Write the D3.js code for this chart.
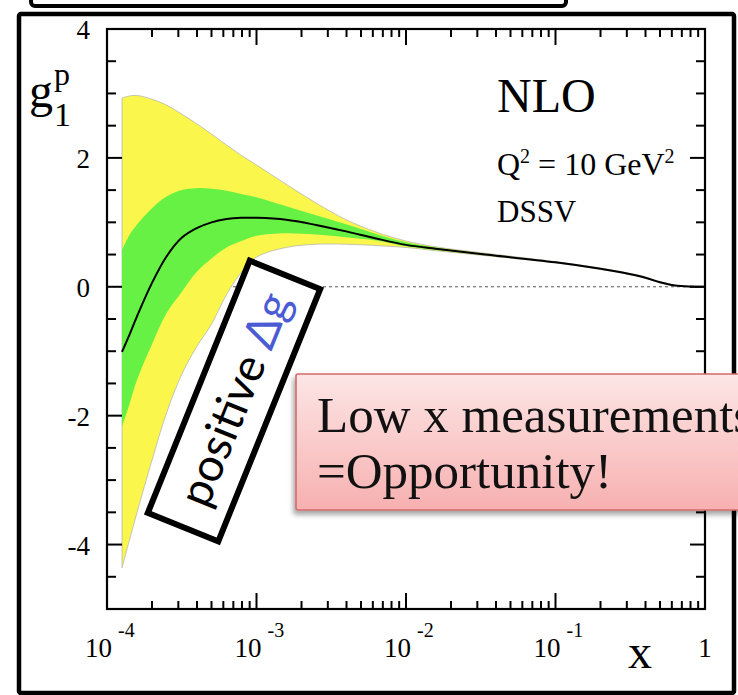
<!DOCTYPE html>
<html>
<head>
<meta charset="utf-8">
<script src="https://cdn.jsdelivr.net/npm/d3@7"></script>
<style>
  html, body { margin: 0; padding: 0; background: #fff; }
  svg { display: block; }
</style>
</head>
<body>
<svg id="chart" width="738" height="695"></svg>
<script>
// x sample points (Bjorken x) of the DSSV g1^p curve and its uncertainty bands
const xs = [1.26e-4, 1.41e-4, 1.58e-4, 2.0e-4, 2.5e-4, 3.16e-4, 3.98e-4, 5.0e-4, 6.3e-4, 7.9e-4,
            1.0e-3, 1.58e-3, 2.5e-3, 3.98e-3, 6.3e-3, 1.0e-2, 1.58e-2, 3.16e-2, 0.1, 0.2,
            0.28, 0.4, 0.5, 0.63, 0.8, 1.0];
// central NLO fit
const central = [-1.01, -0.75, -0.47, 0.06, 0.47, 0.76, 0.91, 1.00, 1.05, 1.07,
                 1.07, 1.04, 0.96, 0.86, 0.75, 0.65, 0.59, 0.51, 0.38, 0.28,
                 0.22, 0.14, 0.07, 0.02, 0.003, 0.0];
// inner (green) band
const innerHi = [0.57, 0.80, 0.96, 1.22, 1.40, 1.50, 1.53, 1.52, 1.49, 1.44,
                 1.39, 1.25, 1.11, 0.97, 0.82, 0.69, 0.61, 0.52, 0.385, 0.285,
                 0.225, 0.145, 0.075, 0.022, 0.004, 0.0];
const innerLo = [-2.17, -1.83, -1.46, -0.89, -0.41, -0.08, 0.23, 0.44, 0.61, 0.71,
                 0.79, 0.83, 0.81, 0.77, 0.72, 0.63, 0.57, 0.50, 0.375, 0.275,
                 0.215, 0.135, 0.065, 0.018, 0.002, 0.0];
// outer (yellow) band
const outerHi = [2.93, 2.96, 2.97, 2.91, 2.82, 2.68, 2.53, 2.37, 2.20, 2.04,
                 1.89, 1.59, 1.30, 1.04, 0.85, 0.71, 0.62, 0.53, 0.39, 0.29,
                 0.23, 0.15, 0.08, 0.025, 0.005, 0.0];
const outerLo = [-4.36, -3.94, -3.52, -2.69, -1.96, -1.36, -0.93, -0.58, -0.12, 0.22,
                 0.46, 0.61, 0.66, 0.66, 0.64, 0.61, 0.56, 0.49, 0.37, 0.27,
                 0.21, 0.13, 0.06, 0.015, 0.001, 0.0];

// axis ticks
const xMajorTicks = [1e-4, 1e-3, 1e-2, 1e-1, 1];
const xTickExp = ["-4", "-3", "-2", "-1", null];
const yMajorTicks = [-4, -2, 0, 2, 4];
const yTickLabels = ["-4", "-2", "0", "2", "4"];

const svg = d3.select("#chart");
const serif = "'Liberation Serif', 'Times New Roman', serif";

const x = d3.scaleLog().domain([1e-4, 1]).range([107, 705]);
const y = d3.scaleLinear().domain([-5, 4]).range([609, 29]);

const rows = xs.map((v, i) => ({
  x: v, c: central[i], gl: innerLo[i], gh: innerHi[i], yl: outerLo[i], yh: outerHi[i]
}));

const defs = svg.append("defs");
const grad = defs.append("linearGradient").attr("id", "pinkGrad")
  .attr("x1", 0).attr("y1", 0).attr("x2", 0).attr("y2", 1);
grad.append("stop").attr("offset", "0%").attr("stop-color", "#fde6e6");
grad.append("stop").attr("offset", "100%").attr("stop-color", "#f7b0b0");
const shadow = defs.append("filter").attr("id", "boxShadow")
  .attr("x", "-20%").attr("y", "-20%").attr("width", "140%").attr("height", "150%");
shadow.append("feDropShadow").attr("dx", -2).attr("dy", 4).attr("stdDeviation", 2.5)
  .attr("flood-color", "#000").attr("flood-opacity", 0.35);

// outer slide frame and the box peeking in at the top
svg.append("rect").attr("x", 31).attr("y", -30).attr("width", 535).attr("height", 36)
  .attr("rx", 4).attr("fill", "#fff").attr("stroke", "#000").attr("stroke-width", 4);
svg.append("rect").attr("x", 19).attr("y", 14).attr("width", 715).attr("height", 679)
  .attr("rx", 2).attr("fill", "#fff").attr("stroke", "#000").attr("stroke-width", 4.5);

// zero reference line
svg.append("line")
  .attr("x1", x(1e-4)).attr("x2", x(1)).attr("y1", y(0)).attr("y2", y(0))
  .attr("stroke", "#555").attr("stroke-width", 1).attr("stroke-dasharray", "3,3");

const curve = d3.curveCatmullRom.alpha(0.5);
const outerArea = d3.area().x(d => x(d.x)).y0(d => y(d.yl)).y1(d => y(d.yh)).curve(curve);
const innerArea = d3.area().x(d => x(d.x)).y0(d => y(d.gl)).y1(d => y(d.gh)).curve(curve);
const centralLine = d3.line().x(d => x(d.x)).y(d => y(d.c)).curve(curve);

svg.append("path").datum(rows).attr("d", outerArea)
  .attr("fill", "#fbf64c").attr("stroke", "#b8b8b0").attr("stroke-width", 0.8);
svg.append("path").datum(rows).attr("d", innerArea)
  .attr("fill", "#66f144").attr("stroke", "none");
svg.append("path").datum(rows).attr("d", centralLine)
  .attr("fill", "none").attr("stroke", "#000").attr("stroke-width", 2);

// plot frame
svg.append("rect").attr("x", 107).attr("y", 29).attr("width", 598).attr("height", 580)
  .attr("fill", "none").attr("stroke", "#000").attr("stroke-width", 2.2);

// x ticks (bottom and top)
const xAll = x.ticks();
const isMajorX = t => xMajorTicks.some(m => Math.abs(Math.log10(m) - Math.log10(t)) < 1e-6);
const tickG = svg.append("g").attr("stroke", "#000").attr("stroke-width", 2);
tickG.selectAll("line.xb").data(xAll).join("line").attr("class", "xb")
  .attr("x1", d => x(d)).attr("x2", d => x(d))
  .attr("y1", 609).attr("y2", d => 609 - (isMajorX(d) ? 16 : 8));
tickG.selectAll("line.xt").data(xAll).join("line").attr("class", "xt")
  .attr("x1", d => x(d)).attr("x2", d => x(d))
  .attr("y1", 29).attr("y2", d => 29 + (isMajorX(d) ? 16 : 8));

// y ticks (left and right), every 0.5
const yAll = y.ticks(18);
const isMajorY = t => yMajorTicks.includes(t);
tickG.selectAll("line.yl").data(yAll).join("line").attr("class", "yl")
  .attr("y1", d => y(d)).attr("y2", d => y(d))
  .attr("x1", 107).attr("x2", d => 107 + (isMajorY(d) ? 15 : 9));
tickG.selectAll("line.yr").data(yAll).join("line").attr("class", "yr")
  .attr("y1", d => y(d)).attr("y2", d => y(d))
  .attr("x1", 705).attr("x2", d => 705 - (isMajorY(d) ? 15 : 9));

// y tick labels
svg.selectAll("text.ylab").data(yMajorTicks).join("text").attr("class", "ylab")
  .attr("x", 90).attr("y", d => y(d) + 10)
  .attr("text-anchor", "end").attr("font-family", serif).attr("font-size", 27)
  .text((d, i) => yTickLabels[i]);

// x tick labels
xMajorTicks.forEach((t, i) => {
  if (xTickExp[i] === null) {
    svg.append("text").attr("x", x(t)).attr("y", 657).attr("text-anchor", "middle")
      .attr("font-family", serif).attr("font-size", 27).text("1");
  } else {
    const lab = svg.append("text").attr("x", x(t) - 22).attr("y", 657)
      .attr("font-family", serif).attr("font-size", 27);
    lab.append("tspan").text("10");
    lab.append("tspan").attr("x", x(t) + 11).attr("y", 637).attr("font-size", 20).text(xTickExp[i]);
  }
});

// axis titles
svg.append("text").attr("x", 628).attr("y", 668).attr("font-family", serif)
  .attr("font-size", 48).text("x");
const gl = svg.append("text").attr("font-family", serif);
gl.append("tspan").attr("x", 29).attr("y", 107).attr("font-size", 48).text("g");
gl.append("tspan").attr("x", 54).attr("y", 85).attr("font-size", 32).text("p");
gl.append("tspan").attr("x", 54).attr("y", 126).attr("font-size", 34).text("1");

// in-plot legend text
svg.append("text").attr("x", 497).attr("y", 112).attr("font-family", serif)
  .attr("font-size", 48).text("NLO");
const q = svg.append("text").attr("x", 497).attr("y", 175).attr("font-family", serif).attr("font-size", 32);
q.append("tspan").text("Q");
q.append("tspan").attr("dy", -12).attr("font-size", 20).text("2");
q.append("tspan").attr("dy", 12).text(" = 10 GeV");
q.append("tspan").attr("dy", -12).attr("font-size", 20).text("2");
svg.append("text").attr("x", 497).attr("y", 222).attr("font-family", serif)
  .attr("font-size", 31).text("DSSV");

// rotated "positive Δg" tag
const tag = svg.append("g").attr("transform", "translate(234,401) rotate(-68)");
tag.append("rect").attr("x", -136).attr("y", -38).attr("width", 272).attr("height", 76)
  .attr("fill", "#fff").attr("stroke", "#000").attr("stroke-width", 6);
const tagText = tag.append("text").attr("x", 2).attr("y", 16).attr("text-anchor", "middle")
  .attr("font-family", "Lato, 'Noto Sans', sans-serif").attr("font-size", 46)
  .attr("font-style", "normal").attr("font-weight", 400);
tagText.append("tspan").attr("fill", "#000").text("positive ");
tagText.append("tspan").attr("fill", "#4a5bd4").text("Δg");

// callout box
svg.append("rect").attr("x", 296).attr("y", 374).attr("width", 470).attr("height", 136)
  .attr("rx", 2).attr("fill", "url(#pinkGrad)").attr("stroke", "#d46a6a").attr("stroke-width", 1.6)
  .attr("filter", "url(#boxShadow)");
svg.append("text").attr("x", 317).attr("y", 432).attr("font-family", serif)
  .attr("font-size", 51).attr("fill", "#111").text("Low x measurements");
svg.append("text").attr("x", 317).attr("y", 488).attr("font-family", serif)
  .attr("font-size", 51).attr("fill", "#111").text("=Opportunity!");
</script>
</body>
</html>
